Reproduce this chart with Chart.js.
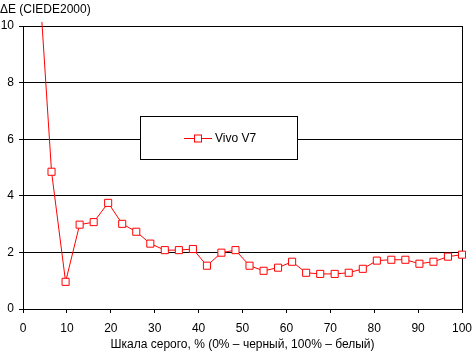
<!DOCTYPE html>
<html>
<head>
<meta charset="utf-8">
<script src="https://cdn.jsdelivr.net/npm/chart.js@4"></script>
<style>
    body { margin: 0; background: #fff; }
    canvas { display: block; }
</style>
</head>
<body>
<canvas id="chart" width="472" height="352"></canvas>
<script>
const grayLevels = [3.2, 6.5, 9.7, 12.9, 16.1, 19.4, 22.6, 25.8, 29.0, 32.3, 35.5, 38.7, 41.9, 45.2, 48.4,
    51.6, 54.8, 58.1, 61.3, 64.5, 67.7, 71.0, 74.2, 77.4, 80.6, 83.9, 87.1, 90.3, 93.5, 96.8, 100];
const deltaE = [12.8, 4.85, 0.96, 2.98, 3.07, 3.75, 3.01, 2.73, 2.31, 2.08, 2.08, 2.12, 1.53, 1.99, 2.08,
    1.53, 1.35, 1.46, 1.67, 1.28, 1.24, 1.24, 1.28, 1.42, 1.71, 1.74, 1.74, 1.60, 1.67, 1.85, 1.92];
const seriesName = 'Vivo V7';
const yTitle = 'ΔE (CIEDE2000)';
const xTitle = 'Шкала серого, % (0% – черный, 100% – белый)';

const FONT = { family: 'Liberation Sans, Arial, sans-serif', size: 12, weight: 'normal' };

// legend box sitting inside the plot, like the original
const boxLegend = {
    id: 'boxLegend',
    afterDraw(chart) {
        const ctx = chart.ctx;
        ctx.save();
        ctx.fillStyle = '#fff';
        ctx.strokeStyle = '#000';
        ctx.lineWidth = 1;
        ctx.fillRect(140.5, 116.5, 157, 43);
        ctx.strokeRect(140.5, 116.5, 157, 43);
        ctx.strokeStyle = 'red';
        ctx.beginPath();
        ctx.moveTo(184, 138.5);
        ctx.lineTo(212, 138.5);
        ctx.stroke();
        ctx.fillRect(194.5, 135, 7, 7);
        ctx.strokeRect(194.5, 135, 7, 7);
        ctx.fillStyle = '#000';
        ctx.font = '12px ' + FONT.family;
        ctx.textBaseline = 'middle';
        ctx.fillText(seriesName, 215, 139);
        ctx.restore();
    }
};

new Chart(document.getElementById('chart'), {
    type: 'line',
    data: {
        datasets: [{
            label: seriesName,
            data: grayLevels.map((x, i) => ({ x, y: deltaE[i] })),
            borderColor: 'red',
            borderWidth: 1,
            backgroundColor: '#fff',
            pointStyle: 'rect',
            pointRadius: 5,
            pointBorderWidth: 1,
            pointBorderColor: 'red',
            pointBackgroundColor: '#fff',
            tension: 0,
            clip: 4
        }]
    },
    options: {
        responsive: false,
        animation: false,
        layout: { padding: 0 },
        plugins: {
            legend: { display: false },
            tooltip: { enabled: false },
            title: {
                display: true,
                text: yTitle,
                align: 'start',
                color: '#000',
                font: FONT,
                padding: { top: 2, bottom: 9.6 }
            }
        },
        scales: {
            x: {
                type: 'linear',
                min: 0,
                max: 100,
                ticks: { stepSize: 10, color: '#000', font: FONT, padding: 8, maxRotation: 0 },
                grid: {
                    color: c => c.tick && c.tick.value === 100 ? '#000' : 'rgba(0,0,0,0)',
                    tickColor: '#000',
                    tickLength: 4
                },
                border: { color: '#000' },
                title: { display: true, text: xTitle, color: '#000', font: FONT, padding: { top: 1, bottom: 0 } },
                afterFit(scale) {
                    scale.height = 43;
                    scale.paddingRight = 10;
                    scale.paddingLeft = 0;
                }
            },
            y: {
                min: 0,
                max: 10,
                ticks: { stepSize: 2, color: '#000', font: FONT, padding: 5 },
                grid: { color: '#000', tickColor: '#000', tickLength: 4 },
                border: { color: '#000' },
                afterFit(scale) {
                    scale.width = 23;
                    scale.paddingTop = 0;
                    scale.paddingBottom = 0;
                }
            }
        }
    },
    plugins: [boxLegend]
});
</script>
</body>
</html>
